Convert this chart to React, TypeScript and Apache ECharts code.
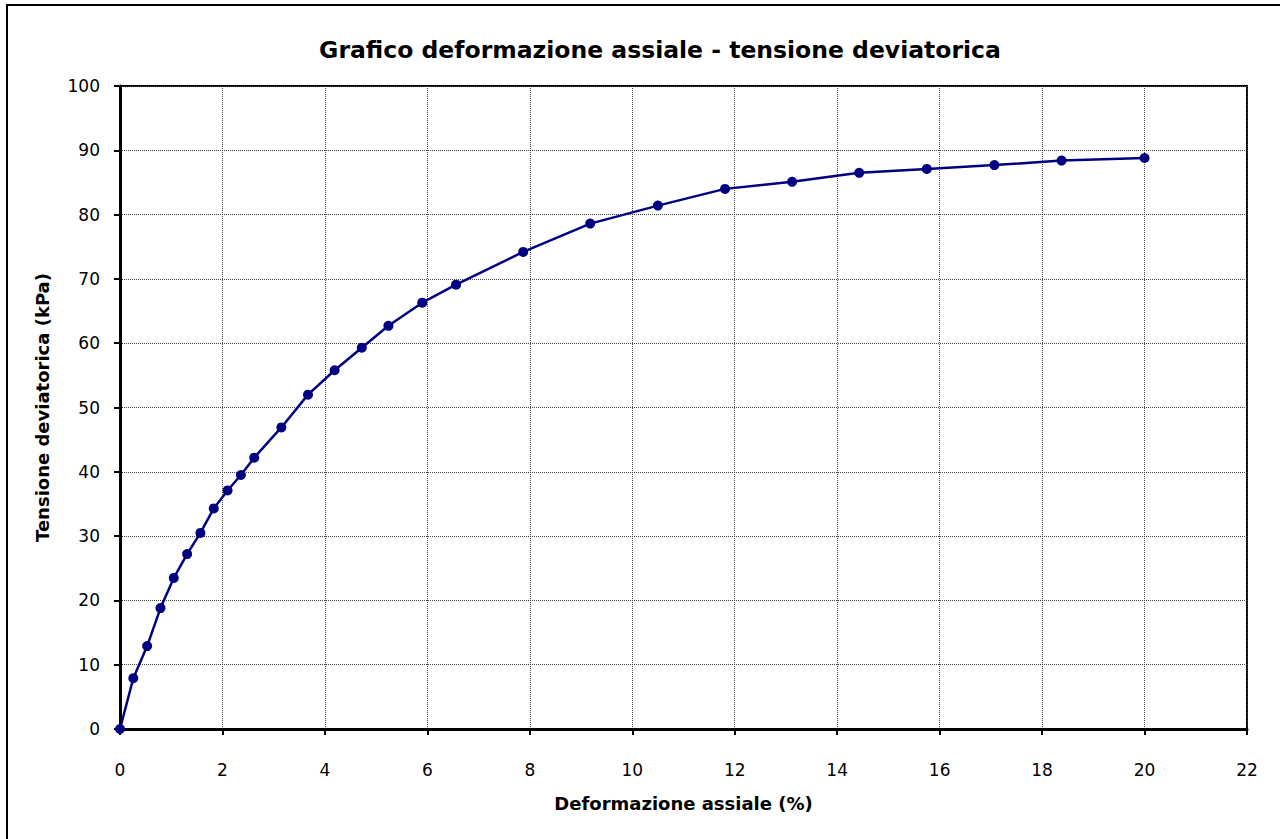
import React, { useEffect, useRef } from "react";
import * as echarts from "echarts";

const strainPct = [0, 0.26, 0.53, 0.79, 1.05, 1.31, 1.57, 1.83, 2.1, 2.36, 2.62, 3.15, 3.67, 4.19, 4.72, 5.24, 5.9, 6.56, 7.87, 9.18, 10.5, 11.81, 13.12, 14.43, 15.75, 17.07, 18.38, 20.0];
const deviatorKPa = [0, 7.9, 12.9, 18.8, 23.5, 27.2, 30.5, 34.3, 37.1, 39.5, 42.2, 46.9, 52.0, 55.8, 59.3, 62.7, 66.3, 69.1, 74.2, 78.6, 81.4, 84.0, 85.1, 86.5, 87.1, 87.7, 88.4, 88.8];

const titleText = "Grafico deformazione assiale - tensione deviatorica";
const xName = "Deformazione assiale (%)";
const yName = "Tensione deviatorica (kPa)";

const FONT = "'DejaVu Sans', sans-serif";

export default function App() {
  const ref = useRef<HTMLDivElement>(null);
  useEffect(() => {
    if (!ref.current) return;
    const chart = echarts.init(ref.current, null, { renderer: "svg" });
    const data = strainPct.map((x, i) => [x, deviatorKPa[i]]);
    chart.setOption({
      animation: false,
      backgroundColor: "#fff",
      title: {
        text: titleText,
        left: 655,
        top: 33,
        textAlign: "center",
        textStyle: { fontFamily: FONT, fontWeight: "bold", fontSize: 23.5, color: "#000" },
      },
      graphic: [
        {
          type: "rect",
          shape: { x: 7, y: 5, width: 1400, height: 1000 },
          style: { fill: "none", stroke: "#000", lineWidth: 2 },
          silent: true,
        },
      ],
      grid: {
        left: 120,
        right: 33,
        top: 86,
        bottom: 110,
        show: true,
        borderColor: "#000",
        borderWidth: 2,
      },
      xAxis: {
        type: "value",
        min: 0,
        max: 22,
        interval: 2,
        name: xName,
        nameLocation: "middle",
        nameGap: 65,
        nameTextStyle: { fontFamily: FONT, fontWeight: "bold", fontSize: 18, color: "#000" },
        axisLine: { show: true, lineStyle: { color: "#000", width: 3 } },
        axisTick: { show: true, length: 6, lineStyle: { color: "#000", width: 2 } },
        axisLabel: { fontFamily: FONT, fontSize: 17, color: "#000", margin: 32 },
        splitLine: { show: true, lineStyle: { color: "#444", width: 1, type: [1, 1] } },
      },
      yAxis: {
        type: "value",
        min: 0,
        max: 100,
        interval: 10,
        name: yName,
        nameLocation: "middle",
        nameGap: 69,
        nameRotate: 90,
        nameTextStyle: { fontFamily: FONT, fontWeight: "bold", fontSize: 18, color: "#000" },
        axisLine: { show: true, lineStyle: { color: "#000", width: 3 } },
        axisTick: { show: true, length: 6, lineStyle: { color: "#000", width: 2 } },
        axisLabel: { fontFamily: FONT, fontSize: 17, color: "#000", margin: 20 },
        splitLine: { show: true, lineStyle: { color: "#444", width: 1, type: [1, 1] } },
      },
      series: [
        {
          type: "line",
          data,
          smooth: false,
          symbol: "circle",
          symbolSize: 10,
          itemStyle: { color: "#000080" },
          lineStyle: { color: "#000080", width: 2.5 },
          clip: false,
        },
      ],
    });
    return () => chart.dispose();
  }, []);
  return (
    <div
      ref={ref}
      style={{ position: "fixed", left: 0, top: 0, width: 1280, height: 839 }}
    />
  );
}
